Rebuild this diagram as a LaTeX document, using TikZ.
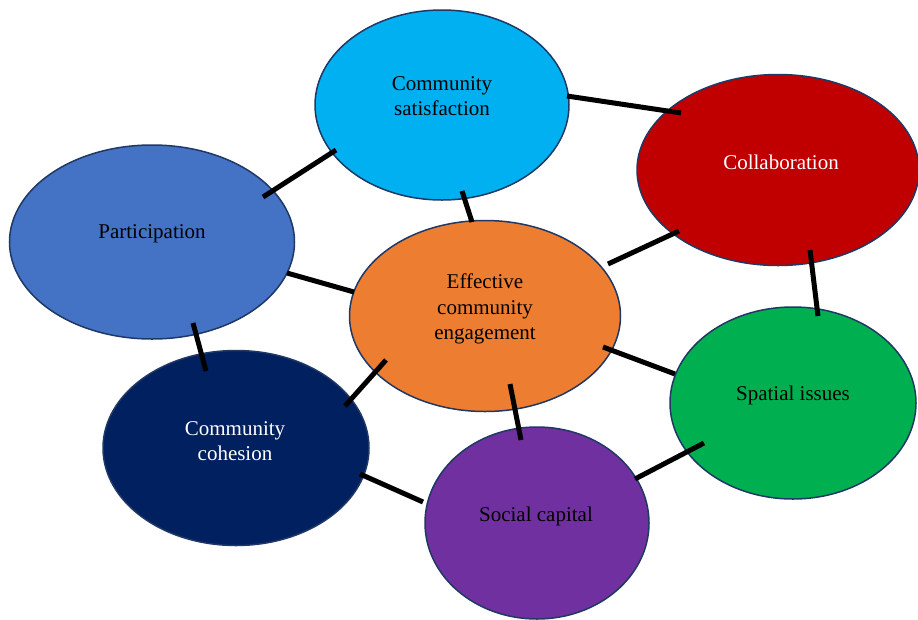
\documentclass[tikz,border=0pt]{standalone}
\usepackage{fontspec}
\setmainfont{Liberation Serif}
\usetikzlibrary{shapes.geometric}
\definecolor{cSat}{HTML}{00B0F0}
\definecolor{cCol}{HTML}{C00000}
\definecolor{cPar}{HTML}{4472C4}
\definecolor{cEff}{HTML}{ED7D31}
\definecolor{cSpa}{HTML}{00B050}
\definecolor{cCoh}{HTML}{002060}
\definecolor{cSoc}{HTML}{7030A0}
\definecolor{cEdge}{HTML}{1F3864}
\tikzset{
  bubble/.style={ellipse, draw=cEdge, line width=1.5pt, inner sep=0pt},
  lbl/.style={align=center, font=\fontsize{21}{25.5}\selectfont, inner sep=0pt},
  link/.style={line width=5pt, black},
}
\begin{document}
\begin{tikzpicture}[x=1pt,y=-1pt]
\useasboundingbox (0,0) rectangle (918,619);
% ellipses
\node[bubble, fill=cSat, minimum width=254pt, minimum height=190pt] (sat) at (442,105) {};
\node[bubble, fill=cCol, minimum width=282pt, minimum height=191pt] (col) at (778,170) {};
\node[bubble, fill=cPar, minimum width=285pt, minimum height=194pt] (par) at (152,242) {};
\node[bubble, fill=cEff, minimum width=271pt, minimum height=191pt] (eff) at (485,316) {};
\node[bubble, fill=cSpa, minimum width=246pt, minimum height=192pt] (spa) at (793,403) {};
\node[bubble, fill=cCoh, minimum width=266pt, minimum height=195pt] (coh) at (236,448) {};
\node[bubble, fill=cSoc, minimum width=224pt, minimum height=192pt] (soc) at (537,523) {};
% labels
\node[lbl] (tsat) at (442,96) {Community\\satisfaction};
\node[lbl, text=white] (tcol) at (781,162) {Collaboration};
\node[lbl] (tpar) at (152,234) {Participation};
\node[lbl] (teff) at (485,309) {Effective\\community\\engagement};
\node[lbl] (tspa) at (793,395) {Spatial issues};
\node[lbl, text=white] (tcoh) at (235,441) {Community\\cohesion};
\node[lbl] (tsoc) at (536,516) {Social capital};
% connector end points
\coordinate (a1) at (263,197); \coordinate (a2) at (336,150);
\coordinate (b1) at (567,96);  \coordinate (b2) at (681,113);
\coordinate (c1) at (462,191); \coordinate (c2) at (472,222);
\coordinate (d1) at (287,273); \coordinate (d2) at (354,292);
\coordinate (e1) at (608,264); \coordinate (e2) at (679,231);
\coordinate (f1) at (810,250); \coordinate (f2) at (818,316);
\coordinate (g1) at (193,323); \coordinate (g2) at (206,371);
\coordinate (h1) at (386,360); \coordinate (h2) at (345,406);
\coordinate (i1) at (510,384); \coordinate (i2) at (521,440);
\coordinate (j1) at (603,347); \coordinate (j2) at (675,374);
\coordinate (k1) at (704,443); \coordinate (k2) at (635,479);
\coordinate (l1) at (360,474); \coordinate (l2) at (423,502);
\draw[link] (a1) -- (a2);
\draw[link] (b1) -- (b2);
\draw[link] (c1) -- (c2);
\draw[link] (d1) -- (d2);
\draw[link] (e1) -- (e2);
\draw[link] (f1) -- (f2);
\draw[link] (g1) -- (g2);
\draw[link] (h1) -- (h2);
\draw[link] (i1) -- (i2);
\draw[link] (j1) -- (j2);
\draw[link] (k1) -- (k2);
\draw[link] (l1) -- (l2);
\end{tikzpicture}
\end{document}
